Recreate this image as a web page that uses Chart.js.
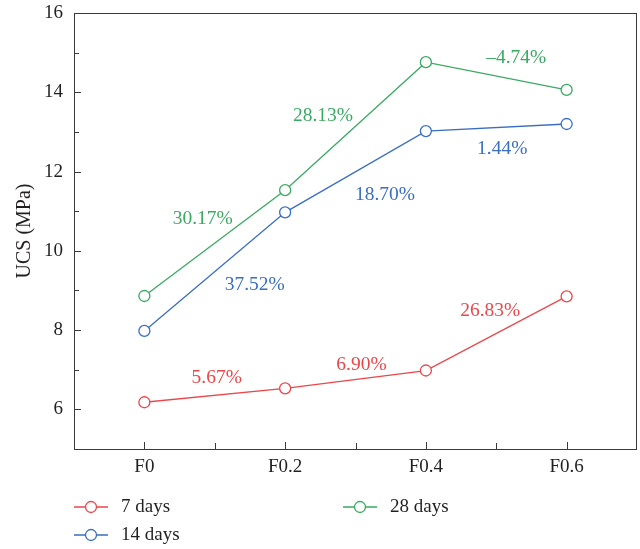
<!DOCTYPE html>
<html>
<head>
<meta charset="utf-8">
<title>UCS (MPa)</title>
<script src="https://cdn.jsdelivr.net/npm/chart.js@4.4.1/dist/chart.umd.min.js"></script>
<style>
  html, body { margin: 0; padding: 0; background: #ffffff; }
  canvas { display: block; }
</style>
</head>
<body>
<canvas id="ucs" width="640" height="549"></canvas>
<script>
// Mix proportions on the x axis
const categories = ['F0', 'F0.2', 'F0.4', 'F0.6'];

// Unconfined compressive strength (MPa) at each curing age
const ucs7 = [6.18, 6.53, 6.98, 8.85];
const ucs14 = [7.98, 10.97, 13.02, 13.20];
const ucs28 = [8.86, 11.53, 14.76, 14.06];

// Growth (%) between neighbouring mixes
const growth7 = [5.67, 6.90, 26.83];
const growth14 = [37.52, 18.70, 1.44];
const growth28 = [30.17, 28.13, -4.74];

// Labelled values on the y axis
const yTickValues = [6, 8, 10, 12, 14, 16];

const FONT = '"Liberation Serif", "DejaVu Serif", serif';
const INK = '#231f20';
const RED = '#e9474a';
const BLUE = '#3a6ebf';
const GREEN = '#3aa962';

function fmtGrowth(v) {
  const s = Math.abs(v).toFixed(2) + '%';
  return v < 0 ? '\u2013' + s : s;
}

function series(label, data, growth, color, offsets) {
  return {
    label, data, growth, offsets,
    borderColor: color,
    backgroundColor: '#ffffff',
    pointBackgroundColor: '#ffffff',
    pointBorderColor: color,
    pointRadius: 5.5,
    pointBorderWidth: 1.3,
    borderWidth: 1.3,
    tension: 0,
    clip: false
  };
}

// Box frame and inward tick marks
const framePlugin = {
  id: 'frame',
  afterDraw(chart) {
    const { ctx, chartArea: a, scales: { x, y } } = chart;
    ctx.save();
    ctx.strokeStyle = '#3a3a3a';
    ctx.lineWidth = 1;
    ctx.strokeRect(Math.round(a.left) + 0.5, Math.round(a.top) + 0.5,
                   Math.round(a.right - a.left) - 1, Math.round(a.bottom - a.top));
    ctx.beginPath();
    for (let v = Math.ceil(y.min); v <= y.max; v++) {
      const py = Math.round(y.getPixelForValue(v)) + 0.5;
      const len = v % 2 === 0 ? 7 : 5;
      ctx.moveTo(a.left, py);
      ctx.lineTo(a.left + len, py);
    }
    const n = categories.length;
    for (let i = 0; i < n; i++) {
      const px = Math.round(x.getPixelForValue(i)) + 0.5;
      ctx.moveTo(px, a.bottom);
      ctx.lineTo(px, a.bottom - 7);
      if (i < n - 1) {
        const mx = Math.round((x.getPixelForValue(i) + x.getPixelForValue(i + 1)) / 2) + 0.5;
        ctx.moveTo(mx, a.bottom);
        ctx.lineTo(mx, a.bottom - 6);
      }
    }
    ctx.stroke();
    ctx.restore();
  }
};

// Growth labels placed near the middle of each segment
const growthPlugin = {
  id: 'growthLabels',
  afterDatasetsDraw(chart) {
    const { ctx } = chart;
    ctx.save();
    ctx.font = '19.5px ' + FONT;
    ctx.textAlign = 'center';
    ctx.textBaseline = 'middle';
    chart.data.datasets.forEach((ds, di) => {
      const pts = chart.getDatasetMeta(di).data;
      ctx.fillStyle = ds.borderColor;
      ds.growth.forEach((g, i) => {
        const mx = (pts[i].x + pts[i + 1].x) / 2;
        const my = (pts[i].y + pts[i + 1].y) / 2;
        const [dx, dy] = ds.offsets[i];
        ctx.fillText(fmtGrowth(g), mx + dx, my + dy);
      });
    });
    ctx.restore();
  }
};

// Two-row legend below the axis
const legendPlugin = {
  id: 'sideLegend',
  afterDraw(chart) {
    const { ctx } = chart;
    const left = 74, top = 507, rowGap = 28, colGap = 269;
    ctx.save();
    ctx.font = '19px ' + FONT;
    ctx.textBaseline = 'middle';
    ctx.textAlign = 'left';
    chart.data.datasets.forEach((ds, i) => {
      const col = Math.floor(i / 2), row = i % 2;
      const x0 = left + col * colGap;
      const yy = top + row * rowGap;
      ctx.strokeStyle = ds.borderColor;
      ctx.lineWidth = 1.3;
      ctx.beginPath();
      ctx.moveTo(x0, yy);
      ctx.lineTo(x0 + 34, yy);
      ctx.stroke();
      ctx.beginPath();
      ctx.arc(x0 + 17, yy, 5.5, 0, Math.PI * 2);
      ctx.fillStyle = '#ffffff';
      ctx.fill();
      ctx.stroke();
      ctx.fillStyle = INK;
      ctx.fillText(ds.label, x0 + 47, yy);
    });
    ctx.restore();
  }
};

new Chart(document.getElementById('ucs'), {
  type: 'line',
  data: {
    labels: categories,
    datasets: [
      series('7 days', ucs7, growth7, RED, [[2, -17], [6, -14.5], [-6, -22.5]]),
      series('14 days', ucs14, growth14, BLUE, [[40, 13], [29.5, 23], [6, 21]]),
      series('28 days', ucs28, growth28, GREEN, [[-12, -24], [-32.5, -10], [20, -18]])
    ]
  },
  options: {
    responsive: false,
    animation: false,
    layout: { autoPadding: false, padding: { left: 0, right: 3, top: 13, bottom: 70 } },
    plugins: {
      legend: { display: false },
      tooltip: { enabled: false }
    },
    scales: {
      x: {
        type: 'category',
        offset: true,
        grid: { display: false, drawTicks: false },
        border: { display: false },
        ticks: { color: INK, font: { family: FONT, size: 19 }, padding: 7 },
        afterFit(s) {
          s.height = 30;
          s.paddingLeft = 0; s.paddingRight = 0; s.paddingTop = 0; s.paddingBottom = 0;
        }
      },
      y: {
        min: 5,
        max: 16,
        afterBuildTicks(s) { s.ticks = yTickValues.map(v => ({ value: v })); },
        grid: { display: false, drawTicks: false },
        border: { display: false },
        ticks: { color: INK, font: { family: FONT, size: 19 }, padding: 11 },
        title: {
          display: true,
          text: 'UCS (MPa)',
          color: INK,
          font: { family: FONT, size: 20 },
          padding: { top: 13, bottom: 0 }
        },
        afterFit(s) {
          s.width = 74;
          s.paddingLeft = 0; s.paddingRight = 0; s.paddingTop = 0; s.paddingBottom = 0;
        }
      }
    }
  },
  plugins: [framePlugin, growthPlugin, legendPlugin]
});
</script>
</body>
</html>
